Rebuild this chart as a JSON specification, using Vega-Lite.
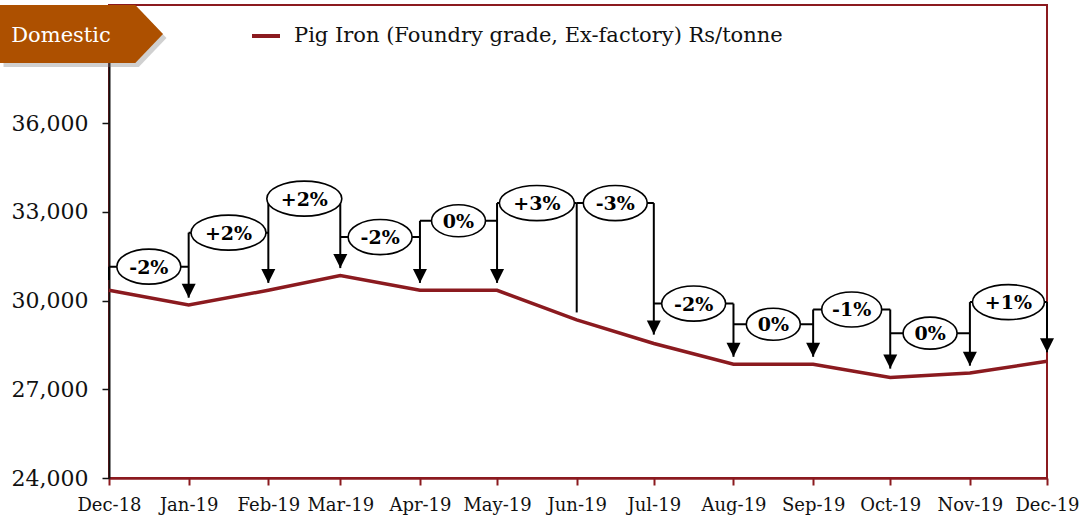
{
  "$schema": "https://vega.github.io/schema/vega-lite/v6.json",
  "autosize": "none",
  "width": 938,
  "height": 473,
  "padding": {"left": 109, "top": 5, "right": 33, "bottom": 42},
  "background": "white",
  "config": {
    "view": {"stroke": "#8B1A1F", "strokeWidth": 2},
    "font": "DejaVu Serif"
  },
  "datasets": {
    "prices": [
      {"date": "2018-12-01", "price": 30350},
      {"date": "2019-01-01", "price": 29850},
      {"date": "2019-02-01", "price": 30350},
      {"date": "2019-03-01", "price": 30850},
      {"date": "2019-04-01", "price": 30350},
      {"date": "2019-05-01", "price": 30350},
      {"date": "2019-06-01", "price": 29350},
      {"date": "2019-07-01", "price": 28550},
      {"date": "2019-08-01", "price": 27850},
      {"date": "2019-09-01", "price": 27850},
      {"date": "2019-10-01", "price": 27400},
      {"date": "2019-11-01", "price": 27550},
      {"date": "2019-12-01", "price": 27950}
    ],
    "brackets": [
      {"start": "2018-12-01", "end": "2019-01-01", "mid": "2018-12-16T12:00:00Z", "level": 31150, "label": "-2%"},
      {"start": "2019-01-01", "end": "2019-02-01", "mid": "2019-01-16T12:00:00Z", "level": 32300, "label": "+2%"},
      {"start": "2019-02-01", "end": "2019-03-01", "mid": "2019-02-15T00:00:00Z", "level": 33450, "label": "+2%"},
      {"start": "2019-03-01", "end": "2019-04-01", "mid": "2019-03-16T12:00:00Z", "level": 32150, "label": "-2%"},
      {"start": "2019-04-01", "end": "2019-05-01", "mid": "2019-04-16T00:00:00Z", "level": 32700, "label": "0%"},
      {"start": "2019-05-01", "end": "2019-06-01", "mid": "2019-05-16T12:00:00Z", "level": 33300, "label": "+3%"},
      {"start": "2019-06-01", "end": "2019-07-01", "mid": "2019-06-16T00:00:00Z", "level": 33300, "label": "-3%"},
      {"start": "2019-07-01", "end": "2019-08-01", "mid": "2019-07-16T12:00:00Z", "level": 29900, "label": "-2%"},
      {"start": "2019-08-01", "end": "2019-09-01", "mid": "2019-08-16T12:00:00Z", "level": 29200, "label": "0%"},
      {"start": "2019-09-01", "end": "2019-10-01", "mid": "2019-09-16T00:00:00Z", "level": 29700, "label": "-1%"},
      {"start": "2019-10-01", "end": "2019-11-01", "mid": "2019-10-16T12:00:00Z", "level": 28900, "label": "0%"},
      {"start": "2019-11-01", "end": "2019-12-01", "mid": "2019-11-16T00:00:00Z", "level": 29950, "label": "+1%"}
    ],
    "verts": [
      {"date": "2018-12-01", "top": 31150, "tip": 30700, "arrow": false},
      {"date": "2019-01-01", "top": 32300, "tip": 30100, "arrow": true},
      {"date": "2019-02-01", "top": 33450, "tip": 30600, "arrow": true},
      {"date": "2019-03-01", "top": 33450, "tip": 31100, "arrow": true},
      {"date": "2019-04-01", "top": 32700, "tip": 30600, "arrow": true},
      {"date": "2019-05-01", "top": 33300, "tip": 30600, "arrow": true},
      {"date": "2019-06-01", "top": 33300, "tip": 29600, "arrow": false},
      {"date": "2019-07-01", "top": 33300, "tip": 28850, "arrow": true},
      {"date": "2019-08-01", "top": 29900, "tip": 28100, "arrow": true},
      {"date": "2019-09-01", "top": 29700, "tip": 28100, "arrow": true},
      {"date": "2019-10-01", "top": 29700, "tip": 27700, "arrow": true},
      {"date": "2019-11-01", "top": 29950, "tip": 27800, "arrow": true},
      {"date": "2019-12-01", "top": 29950, "tip": 28250, "arrow": true}
    ],
    "badge": [{"name": "Domestic"}]
  },
  "layer": [
    {
      "data": {"name": "prices"},
      "mark": {"type": "line", "strokeWidth": 3.5, "clip": false},
      "encoding": {
        "x": {
          "field": "date", "type": "temporal",
          "scale": {"type": "utc", "domain": [{"year": 2018, "month": 12, "date": 1, "utc": true}, {"year": 2019, "month": 12, "date": 1, "utc": true}]},
          "axis": {
            "title": null,
            "grid": false,
            "values": [
              {"year": 2018, "month": 12, "date": 1, "utc": true},
              {"year": 2019, "month": 1, "date": 1, "utc": true},
              {"year": 2019, "month": 2, "date": 1, "utc": true},
              {"year": 2019, "month": 3, "date": 1, "utc": true},
              {"year": 2019, "month": 4, "date": 1, "utc": true},
              {"year": 2019, "month": 5, "date": 1, "utc": true},
              {"year": 2019, "month": 6, "date": 1, "utc": true},
              {"year": 2019, "month": 7, "date": 1, "utc": true},
              {"year": 2019, "month": 8, "date": 1, "utc": true},
              {"year": 2019, "month": 9, "date": 1, "utc": true},
              {"year": 2019, "month": 10, "date": 1, "utc": true},
              {"year": 2019, "month": 11, "date": 1, "utc": true},
              {"year": 2019, "month": 12, "date": 1, "utc": true}
            ],
            "labelExpr": "utcFormat(datum.value, '%b-%y')",
            "domainColor": "#8B1A1F",
            "domainWidth": 2.5,
            "tickColor": "#8B1A1F",
            "tickWidth": 2,
            "tickSize": 7,
            "labelPadding": 11,
            "labelFont": "DejaVu Serif",
            "labelFontSize": 18,
            "labelColor": "#111111",
            "labelFlush": false,
            "labelOverlap": false
          }
        },
        "y": {
          "field": "price", "type": "quantitative",
          "scale": {"domain": [24000, 40000], "nice": false, "zero": false},
          "axis": {
            "title": null,
            "grid": false,
            "values": [24000, 27000, 30000, 33000, 36000],
            "format": ",d",
            "domainColor": "#111111",
            "domainWidth": 2,
            "tickColor": "#111111",
            "tickWidth": 1.5,
            "tickSize": 7,
            "labelPadding": 14,
            "labelFont": "DejaVu Serif",
            "labelFontSize": 22,
            "labelColor": "#111111"
          }
        },
        "color": {
          "datum": "Pig Iron (Foundry grade, Ex-factory) Rs/tonne",
          "type": "nominal",
          "scale": {"range": ["#8B1A1F"]},
          "legend": {
            "title": null,
            "orient": "none",
            "legendX": 141,
            "legendY": 15,
            "symbolType": "stroke",
            "symbolStrokeWidth": 4,
            "symbolSize": 784,
            "labelFont": "DejaVu Serif",
            "labelFontSize": 21,
            "labelLimit": 0,
            "labelColor": "#111111",
            "labelOffset": 12
          }
        }
      }
    },
    {
      "data": {"name": "brackets"},
      "mark": {"type": "rule", "color": "black", "strokeWidth": 2},
      "encoding": {
        "x": {"field": "start", "type": "temporal"},
        "x2": {"field": "end"},
        "y": {"field": "level", "type": "quantitative"}
      }
    },
    {
      "data": {"name": "verts"},
      "mark": {"type": "rule", "color": "black", "strokeWidth": 2},
      "encoding": {
        "x": {"field": "date", "type": "temporal"},
        "y": {"field": "top", "type": "quantitative"},
        "y2": {"field": "tip"}
      }
    },
    {
      "data": {"name": "verts"},
      "transform": [{"filter": "datum.arrow"}],
      "mark": {"type": "point", "shape": "M-1,-1L1,-1L0,1Z", "filled": true, "color": "black", "size": 196, "opacity": 1, "yOffset": -7},
      "encoding": {
        "x": {"field": "date", "type": "temporal"},
        "y": {"field": "tip", "type": "quantitative"}
      }
    },
    {
      "data": {"name": "brackets"},
      "mark": {"type": "point", "filled": true, "fill": "white", "stroke": "black", "strokeWidth": 1.6, "opacity": 1, "size": 5625},
      "encoding": {
        "x": {"field": "mid", "type": "temporal"},
        "y": {"field": "level", "type": "quantitative"},
        "shape": {
          "field": "label", "type": "nominal", "legend": null,
          "scale": {
            "domain": ["+2%", "+3%", "+1%", "-2%", "-3%", "-1%", "0%"],
            "range": [
              "M-1,0C-1,-0.258 -0.552,-0.467 0,-0.467C0.552,-0.467 1,-0.258 1,0C1,0.258 0.552,0.467 0,0.467C-0.552,0.467 -1,0.258 -1,0Z",
              "M-1,0C-1,-0.258 -0.552,-0.467 0,-0.467C0.552,-0.467 1,-0.258 1,0C1,0.258 0.552,0.467 0,0.467C-0.552,0.467 -1,0.258 -1,0Z",
              "M-0.96,0C-0.96,-0.258 -0.53,-0.467 0,-0.467C0.53,-0.467 0.96,-0.258 0.96,0C0.96,0.258 0.53,0.467 0,0.467C-0.53,0.467 -0.96,0.258 -0.96,0Z",
              "M-0.853,0C-0.853,-0.258 -0.471,-0.467 0,-0.467C0.471,-0.467 0.853,-0.258 0.853,0C0.853,0.258 0.471,0.467 0,0.467C-0.471,0.467 -0.853,0.258 -0.853,0Z",
              "M-0.853,0C-0.853,-0.258 -0.471,-0.467 0,-0.467C0.471,-0.467 0.853,-0.258 0.853,0C0.853,0.258 0.471,0.467 0,0.467C-0.471,0.467 -0.853,0.258 -0.853,0Z",
              "M-0.8,0C-0.8,-0.258 -0.442,-0.467 0,-0.467C0.442,-0.467 0.8,-0.258 0.8,0C0.8,0.258 0.442,0.467 0,0.467C-0.442,0.467 -0.8,0.258 -0.8,0Z",
              "M-0.72,0C-0.72,-0.236 -0.398,-0.427 0,-0.427C0.398,-0.427 0.72,-0.236 0.72,0C0.72,0.236 0.398,0.427 0,0.427C-0.398,0.427 -0.72,0.236 -0.72,0Z"
            ]
          }
        }
      }
    },
    {
      "data": {"name": "brackets"},
      "mark": {"type": "text", "font": "DejaVu Serif", "fontWeight": "bold", "fontSize": 19, "color": "black", "align": "center", "baseline": "middle", "dy": 1},
      "encoding": {
        "x": {"field": "mid", "type": "temporal"},
        "y": {"field": "level", "type": "quantitative"},
        "text": {"field": "label"}
      }
    },
    {
      "data": {"name": "badge"},
      "mark": {"type": "point", "shape": "M-1,-0.356L0.66,-0.356L1,0L0.66,0.356L-1,0.356Z", "filled": true, "fill": "#777777", "opacity": 0.35, "size": 26569, "xOffset": -24, "yOffset": 33},
      "encoding": {
        "x": {"datum": {"year": 2018, "month": 12, "date": 1, "utc": true}, "type": "temporal"},
        "y": {"datum": 40000, "type": "quantitative"}
      }
    },
    {
      "data": {"name": "badge"},
      "mark": {"type": "point", "shape": "M-1,-0.356L0.66,-0.356L1,0L0.66,0.356L-1,0.356Z", "filled": true, "fill": "#AD5000", "opacity": 1, "size": 26569, "xOffset": -27.5, "yOffset": 29},
      "encoding": {
        "x": {"datum": {"year": 2018, "month": 12, "date": 1, "utc": true}, "type": "temporal"},
        "y": {"datum": 40000, "type": "quantitative"}
      }
    },
    {
      "data": {"name": "badge"},
      "mark": {"type": "text", "font": "DejaVu Serif", "fontSize": 21, "color": "white", "align": "center", "baseline": "middle", "xOffset": -48, "yOffset": 31},
      "encoding": {
        "x": {"datum": {"year": 2018, "month": 12, "date": 1, "utc": true}, "type": "temporal"},
        "y": {"datum": 40000, "type": "quantitative"},
        "text": {"field": "name"}
      }
    }
  ]
}
